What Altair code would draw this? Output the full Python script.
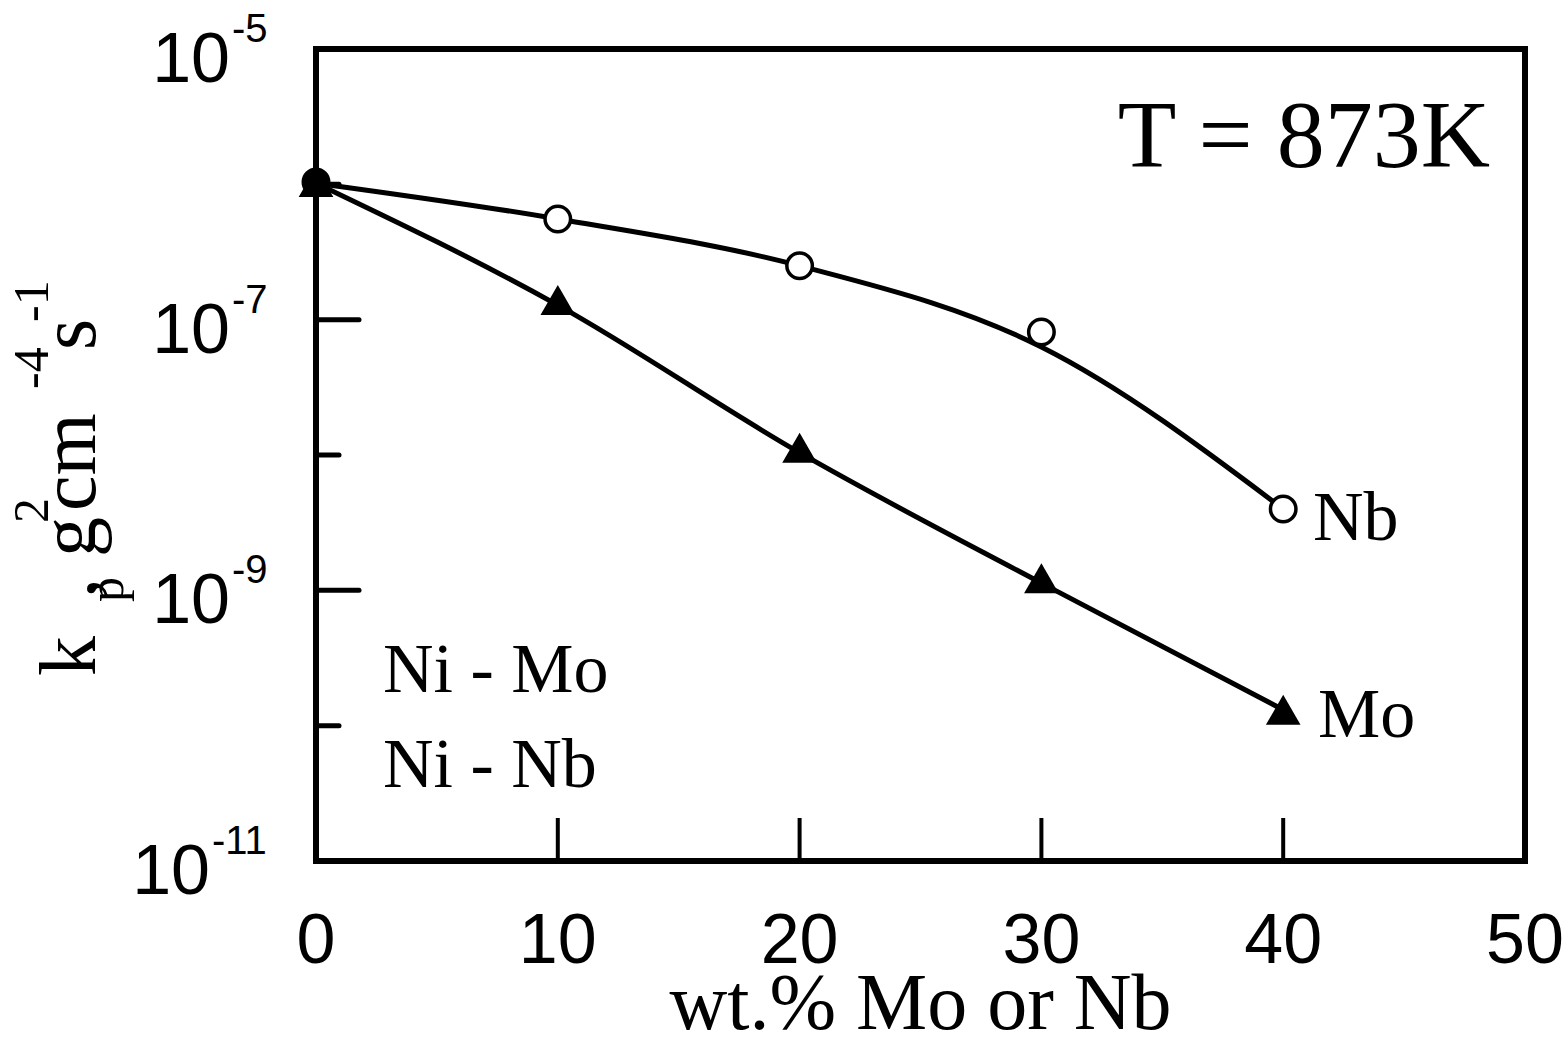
import altair as alt
import pandas as pd

# ---- data ----
x_pts = [0, 10, 20, 30, 40]
nb_pts = [1.04e-6, 5.55e-7, 2.50e-7, 8.11e-8, 3.99e-9]
mo_pts = [1.04e-6, 1.40e-7, 1.13e-8, 1.23e-9, 1.31e-10]
# drawn (fitted) curves
nb_curve = [1.02e-6, 5.55e-7, 2.50e-7, 6.28e-8, 3.99e-9]
mo_curve = [1.02e-6, 1.28e-7, 1.04e-8, 1.13e-9, 1.31e-10]

x_ticks = [0, 10, 20, 30, 40, 50]
x_inner_ticks = [10, 20, 30, 40]
y_label_vals = [1e-5, 1e-7, 1e-9, 1e-11]
y_label_exps = ["-5", "-7", "-9", "-11"]
y_long_ticks = [1e-7, 1e-9]
y_short_ticks = [1e-6, 1e-8, 1e-10]

W, H = 1209, 812
SERIF = "Liberation Serif"
SANS = "Liberation Sans"

xs = alt.Scale(domain=[0, 50], nice=False, zero=False)
ys = alt.Scale(type="log", domain=[1e-11, 1e-5], nice=False)

pts = pd.DataFrame({"x": x_pts, "nb": nb_pts, "mo": mo_pts})
curves = pd.DataFrame({"x": x_pts, "nb": nb_curve, "mo": mo_curve})

X = lambda f="x": alt.X(f, type="quantitative", scale=xs, axis=None)
Y = lambda f: alt.Y(f, type="quantitative", scale=ys, axis=None)

nb_line = alt.Chart(curves).mark_line(color="black", strokeWidth=5, interpolate="monotone").encode(x=X(), y=Y("nb"))
mo_line = alt.Chart(curves).mark_line(color="black", strokeWidth=5, interpolate="monotone").encode(x=X(), y=Y("mo"))

mo_mark = alt.Chart(pts).mark_point(shape="triangle-up", filled=True, color="black", size=1200, opacity=1).encode(x=X(), y=Y("mo"))
nb_mark = alt.Chart(pts).mark_point(shape="circle", filled=True, stroke="black", strokeWidth=3.5, size=650, opacity=1).encode(
    x=X(), y=Y("nb"),
    fill=alt.condition(alt.datum.x == 0, alt.value("black"), alt.value("white")),
)

# ticks (inward)
yl = pd.DataFrame({"v": y_long_ticks})
ysh = pd.DataFrame({"v": y_short_ticks})
xt = pd.DataFrame({"x": x_inner_ticks})
long_ticks = alt.Chart(yl).mark_rule(color="black", strokeWidth=5, strokeCap="round").encode(
    y=Y("v"), x=alt.value(0), x2=alt.value(43))
short_ticks = alt.Chart(ysh).mark_rule(color="black", strokeWidth=5, strokeCap="round").encode(
    y=Y("v"), x=alt.value(0), x2=alt.value(23))
bottom_ticks = alt.Chart(xt).mark_rule(color="black", strokeWidth=4).encode(
    x=X(), y=alt.value(H), y2=alt.value(H - 43))

# x tick labels
xlab = pd.DataFrame({"x": x_ticks, "t": [str(v) for v in x_ticks]})
x_labels = alt.Chart(xlab).mark_text(font=SANS, fontSize=70, align="center", baseline="alphabetic", color="black").encode(
    x=X(), y=alt.value(914), text="t")

# y tick labels: "10" + superscript exponent
ylab = pd.DataFrame({"v": y_label_vals, "e": y_label_exps})
ylab_a = ylab[ylab["e"].str.len() == 2]
ylab_b = ylab[ylab["e"].str.len() == 3]

def ylabel_layers(df, x_base):
    base = alt.Chart(df).mark_text(font=SANS, fontSize=70, align="right", baseline="alphabetic", dy=33, color="black", text="10").encode(
        y=Y("v"), x=alt.value(x_base))
    sup = alt.Chart(df).mark_text(font=SANS, fontSize=40, align="left", baseline="alphabetic", dy=-7, color="black").encode(
        y=Y("v"), x=alt.value(x_base + 2), text="e")
    return [base, sup]

y_labels = ylabel_layers(ylab_a, -86) + ylabel_layers(ylab_b, -106)

dummy = pd.DataFrame({"a": [0]})

def txt(t, x, y, size, font=SERIF, align="left", angle=0):
    kw = dict(text=t, font=font, fontSize=size, align=align, baseline="alphabetic", color="black")
    if angle:
        kw["angle"] = angle
    return alt.Chart(dummy).mark_text(**kw).encode(x=alt.value(x), y=alt.value(y))

# y-axis title pieces (rotated)
ytitle = [
    txt("k", -221, 627, 80, angle=270),
    txt("p", -193, 553, 50, angle=270),
    txt(",", -221, 549, 80, angle=270),
    txt("g", -221, 508, 80, angle=270),
    txt("2", -268, 474, 50, angle=270),
    txt("cm", -221, 462, 80, angle=270),
    txt("-4", -268, 340, 50, angle=270),
    txt("s", -221, 301, 80, angle=270),
    txt("-1", -268, 273, 50, angle=270),
]

annotations = [
    txt("wt.% Mo or Nb", W / 2, 980, 80, align="center"),
    txt("T = 873K", 1174, 118, 96, align="right"),
    txt("Ni - Mo", 67, 643, 70),
    txt("Ni - Nb", 67, 738, 70),
    txt("Nb", 997, 491, 70),
    txt("Mo", 1002, 688, 70),
]

chart = alt.layer(
    long_ticks, short_ticks, bottom_ticks,
    nb_line, mo_line, mo_mark, nb_mark,
    x_labels, *y_labels, *ytitle, *annotations,
).properties(
    width=W, height=H,
    autosize=alt.AutoSizeParams(type="none"),
    padding={"left": 316, "top": 49, "right": 41, "bottom": 182},
    background="white",
).configure_view(stroke="black", strokeWidth=6)

chart.save("out.html", embed_options={"renderer": "svg", "actions": False})
